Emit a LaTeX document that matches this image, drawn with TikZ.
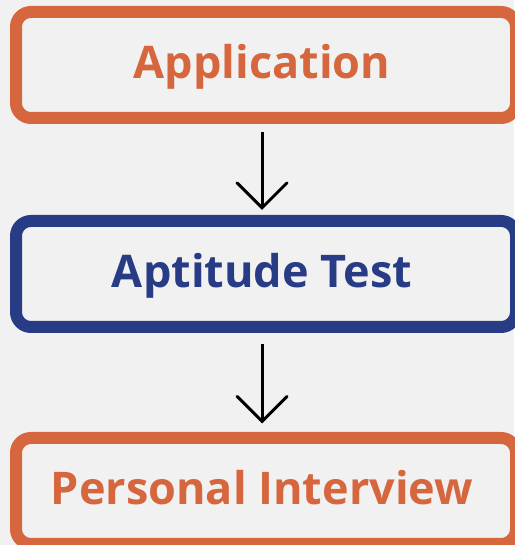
\documentclass[tikz,border=0pt]{standalone}
\usepackage{fontspec}
\setmainfont{Open Sans}
\usetikzlibrary{arrows.meta}
\usepackage{xcolor}
\definecolor{orangeline}{HTML}{D6663D}
\definecolor{navyline}{HTML}{283B85}
\definecolor{paper}{HTML}{F1F1F1}

\begin{document}
\begin{tikzpicture}[
  x=1pt, y=1pt,
  % Node Styles
  stagebox/.style={rectangle, rounded corners=15pt, draw=#1, line width=12pt, text=#1, minimum width=500pt, minimum height=106pt, align=center, text height=33pt, text depth=6pt, font=\fontsize{45}{50}\bfseries\selectfont, execute at end node=\kern8pt},
  % Arrow Styles
  downarrow/.style={-{Straight Barb[length=25pt, width=50pt, line cap=round]}, line width=3pt, black, shorten <=8.5pt, shorten >=5pt}
]
\fill[paper] (0,0) rectangle (514,545);
\useasboundingbox (0,0) rectangle (514,545);

% Diagram for: selection steps

\node[stagebox=orangeline] (S_0) at (266,480) {Application};
\node[stagebox=navyline] (S_1) at (266,271) {Aptitude Test};
\node[stagebox=orangeline] (S_2) at (266,54) {Personal Interview};

\draw[downarrow] ([xshift=-4pt]S_0.south) -- ([xshift=-4pt]S_1.north);
\draw[downarrow, shorten <=11.5pt, shorten >=8.5pt] ([xshift=-4pt]S_1.south) -- ([xshift=-4pt]S_2.north);

\end{tikzpicture}
\end{document}
